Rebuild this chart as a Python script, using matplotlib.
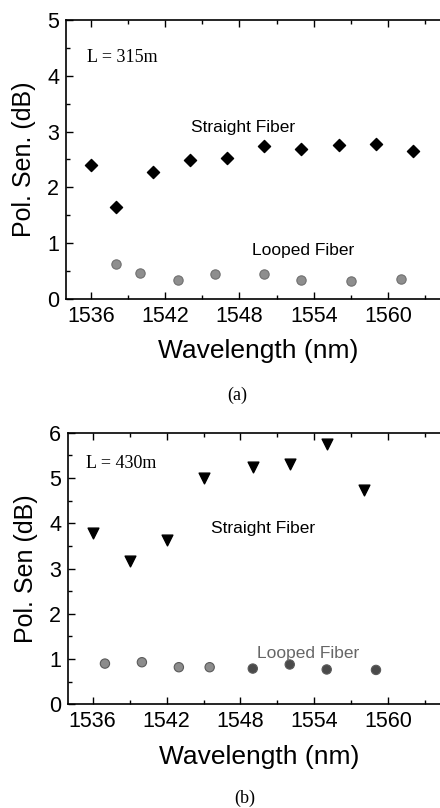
import matplotlib.pyplot as plt
from matplotlib.ticker import MultipleLocator

# panel (a), L = 315 m
wl_a_straight = [1536, 1538, 1541, 1544, 1547, 1550, 1553, 1556, 1559, 1562]
ps_a_straight = [2.41, 1.64, 2.28, 2.49, 2.53, 2.75, 2.68, 2.76, 2.78, 2.65]
wl_a_looped = [1538, 1540, 1543, 1546, 1550, 1553, 1557, 1561]
ps_a_looped = [0.62, 0.47, 0.34, 0.45, 0.45, 0.34, 0.32, 0.36]

# panel (b), L = 430 m
wl_b_straight = [1536, 1539, 1542, 1545, 1549, 1552, 1555, 1558]
ps_b_straight = [3.78, 3.17, 3.63, 5.00, 5.25, 5.30, 5.76, 4.73]
wl_b_looped = [1537, 1540, 1543, 1545.5, 1549, 1552, 1555, 1559]
ps_b_looped = [0.90, 0.93, 0.82, 0.82, 0.79, 0.88, 0.77, 0.76]
b_looped_colors = ["#8c8c8c"] * 4 + ["#4a4a4a"] * 4

xticks = [1536, 1542, 1548, 1554, 1560]

plt.rcParams["font.family"] = ["Liberation Sans", "DejaVu Sans"]

fig = plt.figure(figsize=(4.4, 8.08), dpi=100)
ax1 = fig.add_axes([0.15, 0.630, 0.873, 0.3452])
ax2 = fig.add_axes([0.1545, 0.1283, 0.868, 0.3362])


def style(ax, ymax, ylabel):
    ax.set_xlim(1534.0, 1565.0)
    ax.set_ylim(0, ymax)
    ax.set_xticks(xticks)
    ax.xaxis.set_minor_locator(MultipleLocator(3))
    ax.yaxis.set_major_locator(MultipleLocator(1))
    ax.yaxis.set_minor_locator(MultipleLocator(0.5))
    ax.tick_params(which="both", direction="in", top=True, right=False,
                   width=1, labelsize=15.5, pad=5)
    ax.tick_params(which="major", length=5)
    ax.tick_params(which="minor", length=3)
    ax.spines["right"].set_visible(False)
    for s in ax.spines.values():
        s.set_linewidth(1.2)
    ax.set_xlabel("Wavelength (nm)", fontsize=19, labelpad=9)
    ax.set_ylabel(ylabel, fontsize=18, labelpad=8)


ax1.scatter(wl_a_straight, ps_a_straight, marker="D", s=38, color="black", zorder=3)
ax1.scatter(wl_a_looped, ps_a_looped, marker="o", s=45, color="#8e8e8e",
            edgecolors="#707070", linewidths=0.8, zorder=3)
style(ax1, 5, "Pol. Sen. (dB)")
ax1.text(1535.7, 4.32, "L = 315m", family="Liberation Serif", fontsize=13, va="center")
ax1.text(1548.3, 3.08, "Straight Fiber", fontsize=12.5, ha="center", va="center")
ax1.text(1553.1, 0.86, "Looped Fiber", fontsize=12.5, ha="center", va="center")

ax2.scatter(wl_b_straight, ps_b_straight, marker="v", s=60, color="black", zorder=3)
ax2.scatter(wl_b_looped, ps_b_looped, marker="o", s=45, c=b_looped_colors,
            edgecolors="#5a5a5a", linewidths=0.8, zorder=3)
style(ax2, 6, "Pol. Sen (dB)")
ax2.text(1535.5, 5.32, "L = 430m", family="Liberation Serif", fontsize=13, va="center")
ax2.text(1549.8, 3.88, "Straight Fiber", fontsize=12.5, ha="center", va="center")
ax2.text(1553.5, 1.13, "Looped Fiber", fontsize=12.5, ha="center", va="center", color="#666666")

fig.text(237 / 440, 1 - 395 / 808, "(a)", family="Liberation Serif", fontsize=13,
         ha="center", va="center")
fig.text(245 / 440, 1 - 798 / 808, "(b)", family="Liberation Serif", fontsize=13,
         ha="center", va="center")

fig.savefig("out.png", dpi=100)
